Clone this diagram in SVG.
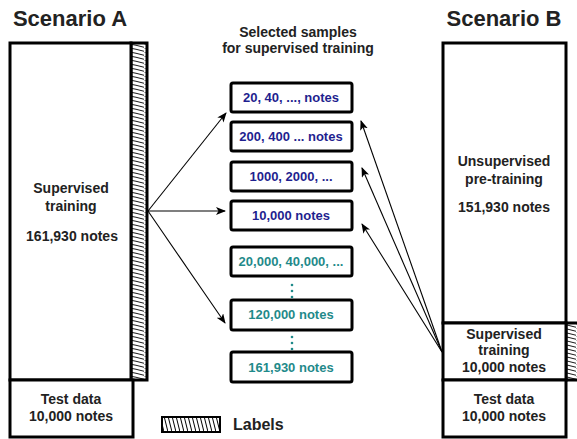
<svg xmlns="http://www.w3.org/2000/svg" width="577" height="439" viewBox="0 0 577 439">
<style>
.t{font-family:"Liberation Sans",Arial,sans-serif;font-weight:bold;text-anchor:middle;fill:#222}
.title{font-size:22px}
.lbl{font-size:14px}
.box{fill:#fff;stroke:#000;stroke-width:3}
.sb{fill:#fff;stroke:#000;stroke-width:3}
.blue{fill:#1f1f8f;font-size:13px}
.teal{fill:#1f8a8a;font-size:13px}
.con{stroke:#000;stroke-width:1.1;fill:none;marker-end:url(#ah)}
</style>
<defs>
<marker id="ah" markerWidth="10" markerHeight="8" refX="9" refY="4" orient="auto" markerUnits="userSpaceOnUse">
<path d="M0,0 L10,4 L0,8 L2.5,4 Z" fill="#000"/>
</marker>
<pattern id="hs" patternUnits="userSpaceOnUse" width="16" height="4">
<rect width="16" height="4" fill="#fff"/>
<path d="M-1,-0.5 Q8,1 17,3.5" stroke="#000" stroke-width="0.9" fill="none"/>
</pattern>
<pattern id="hl" patternUnits="userSpaceOnUse" width="4" height="16">
<rect width="4" height="16" fill="#fff"/>
<path d="M0,0 L4,16" stroke="#000" stroke-width="1" fill="none"/>
</pattern>
</defs>

<g id="scenarioA">
<text class="t title" x="70" y="26">Scenario A</text>
<rect x="131" y="43" width="16" height="337" fill="url(#hs)" stroke="#000" stroke-width="3"/>
<rect class="box" x="10" y="43" width="121" height="337"/>
<text class="t lbl" x="71" y="193">Supervised</text>
<text class="t lbl" x="71" y="211">training</text>
<text class="t lbl" x="72" y="241">161,930 notes</text>
</g>
<g id="testA">
<rect class="box" x="10" y="380" width="123" height="57"/>
<text class="t lbl" x="71" y="404">Test data</text>
<text class="t lbl" x="71" y="421">10,000 notes</text>
</g>

<g id="scenarioB">
<text class="t title" x="504" y="26">Scenario B</text>
<rect class="box" x="443" y="43" width="123" height="280"/>
<text class="t lbl" x="504" y="166">Unsupervised</text>
<text class="t lbl" x="504" y="184">pre-training</text>
<text class="t lbl" x="504" y="212">151,930 notes</text>
</g>
<g id="supB">
<rect x="566" y="323" width="14" height="57" fill="url(#hs)" stroke="#000" stroke-width="3"/>
<rect class="box" x="443" y="323" width="123" height="57"/>
<text class="t lbl" x="504" y="339">Supervised</text>
<text class="t lbl" x="504" y="355">training</text>
<text class="t lbl" x="504" y="372">10,000 notes</text>
</g>
<g id="testB">
<rect class="box" x="443" y="380" width="123" height="57"/>
<text class="t lbl" x="504" y="404">Test data</text>
<text class="t lbl" x="504" y="421">10,000 notes</text>
</g>

<g id="header">
<text class="t lbl" x="298" y="37">Selected samples</text>
<text class="t lbl" x="298" y="53">for supervised training</text>
</g>

<g id="s1"><rect class="sb" x="231" y="83" width="121" height="29" rx="2"/><text class="t blue" x="291" y="102">20, 40, ..., notes</text></g>
<g id="s2"><rect class="sb" x="231" y="122" width="121" height="29" rx="2"/><text class="t blue" x="291" y="141">200, 400 ... notes</text></g>
<g id="s3"><rect class="sb" x="231" y="162" width="121" height="29" rx="2"/><text class="t blue" x="291" y="181">1000, 2000, ...</text></g>
<g id="s4"><rect class="sb" x="231" y="201" width="121" height="29" rx="2"/><text class="t blue" x="291" y="220">10,000 notes</text></g>
<g id="s5"><rect class="sb" x="231" y="247" width="121" height="29" rx="2"/><text class="t teal" x="291" y="266">20,000, 40,000, ...</text></g>
<g id="s6"><rect class="sb" x="231" y="300" width="121" height="30" rx="2"/><text class="t teal" x="291" y="319">120,000 notes</text></g>
<g id="s7"><rect class="sb" x="231" y="352" width="121" height="30" rx="2"/><text class="t teal" x="291" y="372">161,930 notes</text></g>

<g id="dots" fill="#1f8a8a">
<circle cx="292" cy="285" r="1.3"/><circle cx="292" cy="291" r="1.3"/><circle cx="292" cy="297" r="1.3"/>
<circle cx="292" cy="337" r="1.3"/><circle cx="292" cy="343" r="1.3"/><circle cx="292" cy="349" r="1.3"/>
</g>

<g id="legend">
<rect x="162" y="417" width="58" height="15" fill="url(#hl)" stroke="#000" stroke-width="2"/>
<text class="t" x="233" y="430" style="text-anchor:start;font-size:16px">Labels</text>
</g>

<g id="connectors">
<line class="con" x1="148" y1="211" x2="226" y2="113"/>
<line class="con" x1="148" y1="211" x2="225" y2="211"/>
<line class="con" x1="148" y1="211" x2="225" y2="323"/>
<line class="con" x1="442" y1="352" x2="361" y2="121"/>
<line class="con" x1="442" y1="352" x2="362" y2="168"/>
<line class="con" x1="442" y1="352" x2="362" y2="224"/>
</g>
</svg>
